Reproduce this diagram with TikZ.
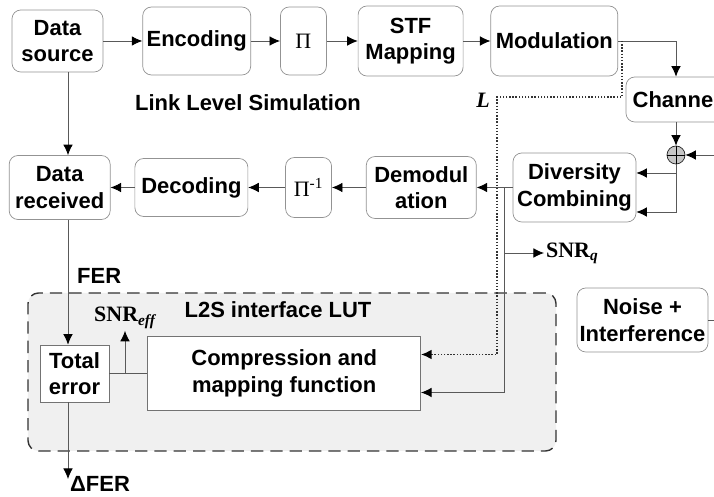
\documentclass[tikz,border=0pt]{standalone}
\usepackage{fontspec}
\setmainfont{Liberation Sans}
\newfontfamily\tnr{Liberation Serif}
\usetikzlibrary{arrows.meta, positioning}

\begin{document}
\begin{tikzpicture}[
    node distance=0.6cm and 0.6cm,
    >={Latex[black, length=6pt, width=5.5pt]},
    block/.style={rectangle, draw=gray!85, fill=white, rounded corners=5pt, align=center, text centered, minimum height=1.36cm, inner sep=1pt, font=\fontsize{12.5}{15}\selectfont\bfseries},
    sqbox/.style={rectangle, draw=gray!90!black, fill=white, align=center, text centered, inner sep=1pt, font=\fontsize{12.5}{15}\selectfont\bfseries},
    lut/.style={rectangle, draw=gray!40!black, fill=gray!12, rounded corners=6pt, line width=0.8pt, dash pattern=on 7pt off 4pt},
    lbl/.style={inner sep=1pt, font=\fontsize{12.5}{15}\selectfont\bfseries},
    serifl/.style={inner sep=1pt, font=\fontsize{12.5}{15}\selectfont\tnr\bfseries},
    line/.style={draw=gray!70!black, line width=0.5pt},
    dotline/.style={draw=gray!40!black, line width=0.8pt, densely dotted}
]
\useasboundingbox (0,0) rectangle (14.28,-9.94);
\clip (0,0) rectangle (14.28,-9.94);

% L2S interface
\node[lut, minimum width=10.56cm, minimum height=3.16cm] (lut) at (5.84,-7.44) {};
\node[lbl] (luttitle) at (5.56,-6.2) {L2S interface LUT};

% Transmitter
\node[block, minimum width=1.82cm, minimum height=1.24cm] (src) at (1.15,-0.82) {Data\\source};
\node[block, minimum width=2.16cm, right=0.78cm of src] (enc) {Encoding};
\node[block, minimum width=0.92cm, right=0.58cm of enc] (pi) {\tnr\mdseries Π};
\node[block, minimum width=2.1cm, minimum height=1.4cm, right=0.62cm of pi] (stf) {STF\\Mapping};
\node[block, minimum width=2.54cm, minimum height=1.4cm, right=0.54cm of stf] (mod) {Modulation};

% Channel
\node[block, minimum width=2.0cm, minimum height=0.9cm] (chan) at (13.52,-1.99) {Channel};
\node[circle, draw=gray!30!black, fill=gray!45, minimum size=0.36cm, inner sep=0pt] (sum) at (13.52,-3.1) {};
\draw[line width=0.5pt] (sum.north) -- (sum.south) (sum.west) -- (sum.east);
\node[block, minimum width=2.62cm, minimum height=1.28cm] (noise) at (12.85,-6.4) {Noise +\\Interference};
\coordinate (noisein) at (14.4,-3.1);
\coordinate (noiseout) at (14.4,-6.4);

% Receiver
\node[block, minimum width=2.46cm, minimum height=1.38cm] (div) at (11.49,-3.75) {Diversity\\Combining};
\node[block, minimum width=2.2cm, minimum height=1.24cm, left=0.72cm of div] (dem) {Demodul\\ation};
\node[block, minimum width=0.92cm, minimum height=1.2cm, left=0.68cm of dem] (piinv) {\tnr\mdseries Π\textsuperscript{-1}};
\node[block, minimum width=2.26cm, minimum height=1.16cm, left=0.74cm of piinv] (dec) {Decoding};
\node[block, minimum width=2.02cm, minimum height=1.28cm, left=0.48cm of dec] (rcv) {Data\\received};

% LUT blocks
\node[sqbox, minimum width=1.38cm, minimum height=1.14cm] (tot) at (1.49,-7.47) {Total\\error};
\node[sqbox, minimum width=5.46cm, minimum height=1.48cm, right=0.76cm of tot] (comp) {Compression and\\mapping function};

% Labels
\node[lbl] (lls) at (4.96,-2.06) {Link Level Simulation};
\node[inner sep=1pt, font=\fontsize{12.5}{15}\selectfont\tnr\bfseries\itshape] (ell) at (9.66,-2.0) {L};
\node[serifl] (snreff) at (2.5,-6.36) {SNR\textsubscript{\itshape eff}};
\node[serifl, anchor=west] (snrq) at (10.88,-5.06) {SNR\textsubscript{\itshape q}};
\node[lbl] (dfer) at (2.0,-9.68) {ΔFER};
\coordinate (trunk) at (1.36,0);
\coordinate (tap) at (10.08,0);
\coordinate (dotx) at (9.94,-1.94);
\coordinate (ferend) at (1.36,-9.58);

% Connections
\draw[line,->] (src) -- (enc);
\draw[line,->] (enc) -- (pi);
\draw[line,->] (pi) -- (stf);
\draw[line,->] (stf) -- (mod);
\draw[line,->] (mod.east) -| (chan.north);
\draw[line,->] (chan) -- (sum);
\draw[line,->] (noisein) -- (sum.east);
\draw[line] (noise.east) -- (noiseout);
\draw[line,->] (sum.south) |- ([yshift=0.29cm]div.east);
\draw[line,->] (sum.south) |- ([yshift=-0.49cm]div.east);
\draw[line,->] (div) -- (dem);
\draw[line,->] (dem) -- (piinv);
\draw[line,->] (piinv) -- (dec);
\draw[line,->] (dec) -- (rcv);
\draw[line,->] (src.south -| trunk) -- (rcv.north -| trunk);
\draw[line,->] (rcv.south -| trunk) -- node[lbl, right=4pt, pos=0.45] {FER} (tot.north -| trunk);
\draw[line,->] (tot.south -| trunk) -- (ferend);
\draw[line] (tot) -- (comp);
\draw[line,->] (snreff.south |- tot.east) -- (snreff.south);

% Link quality feedback
\draw[line,->] (tap |- div.west) |- ([yshift=-0.38cm]comp.east);
\draw[line,->] (tap |- snrq) -- (snrq.west);
\draw[dotline,->] ([xshift=0.08cm]mod.east) |- (dotx) |- ([yshift=0.38cm]comp.east);

\end{tikzpicture}
\end{document}
